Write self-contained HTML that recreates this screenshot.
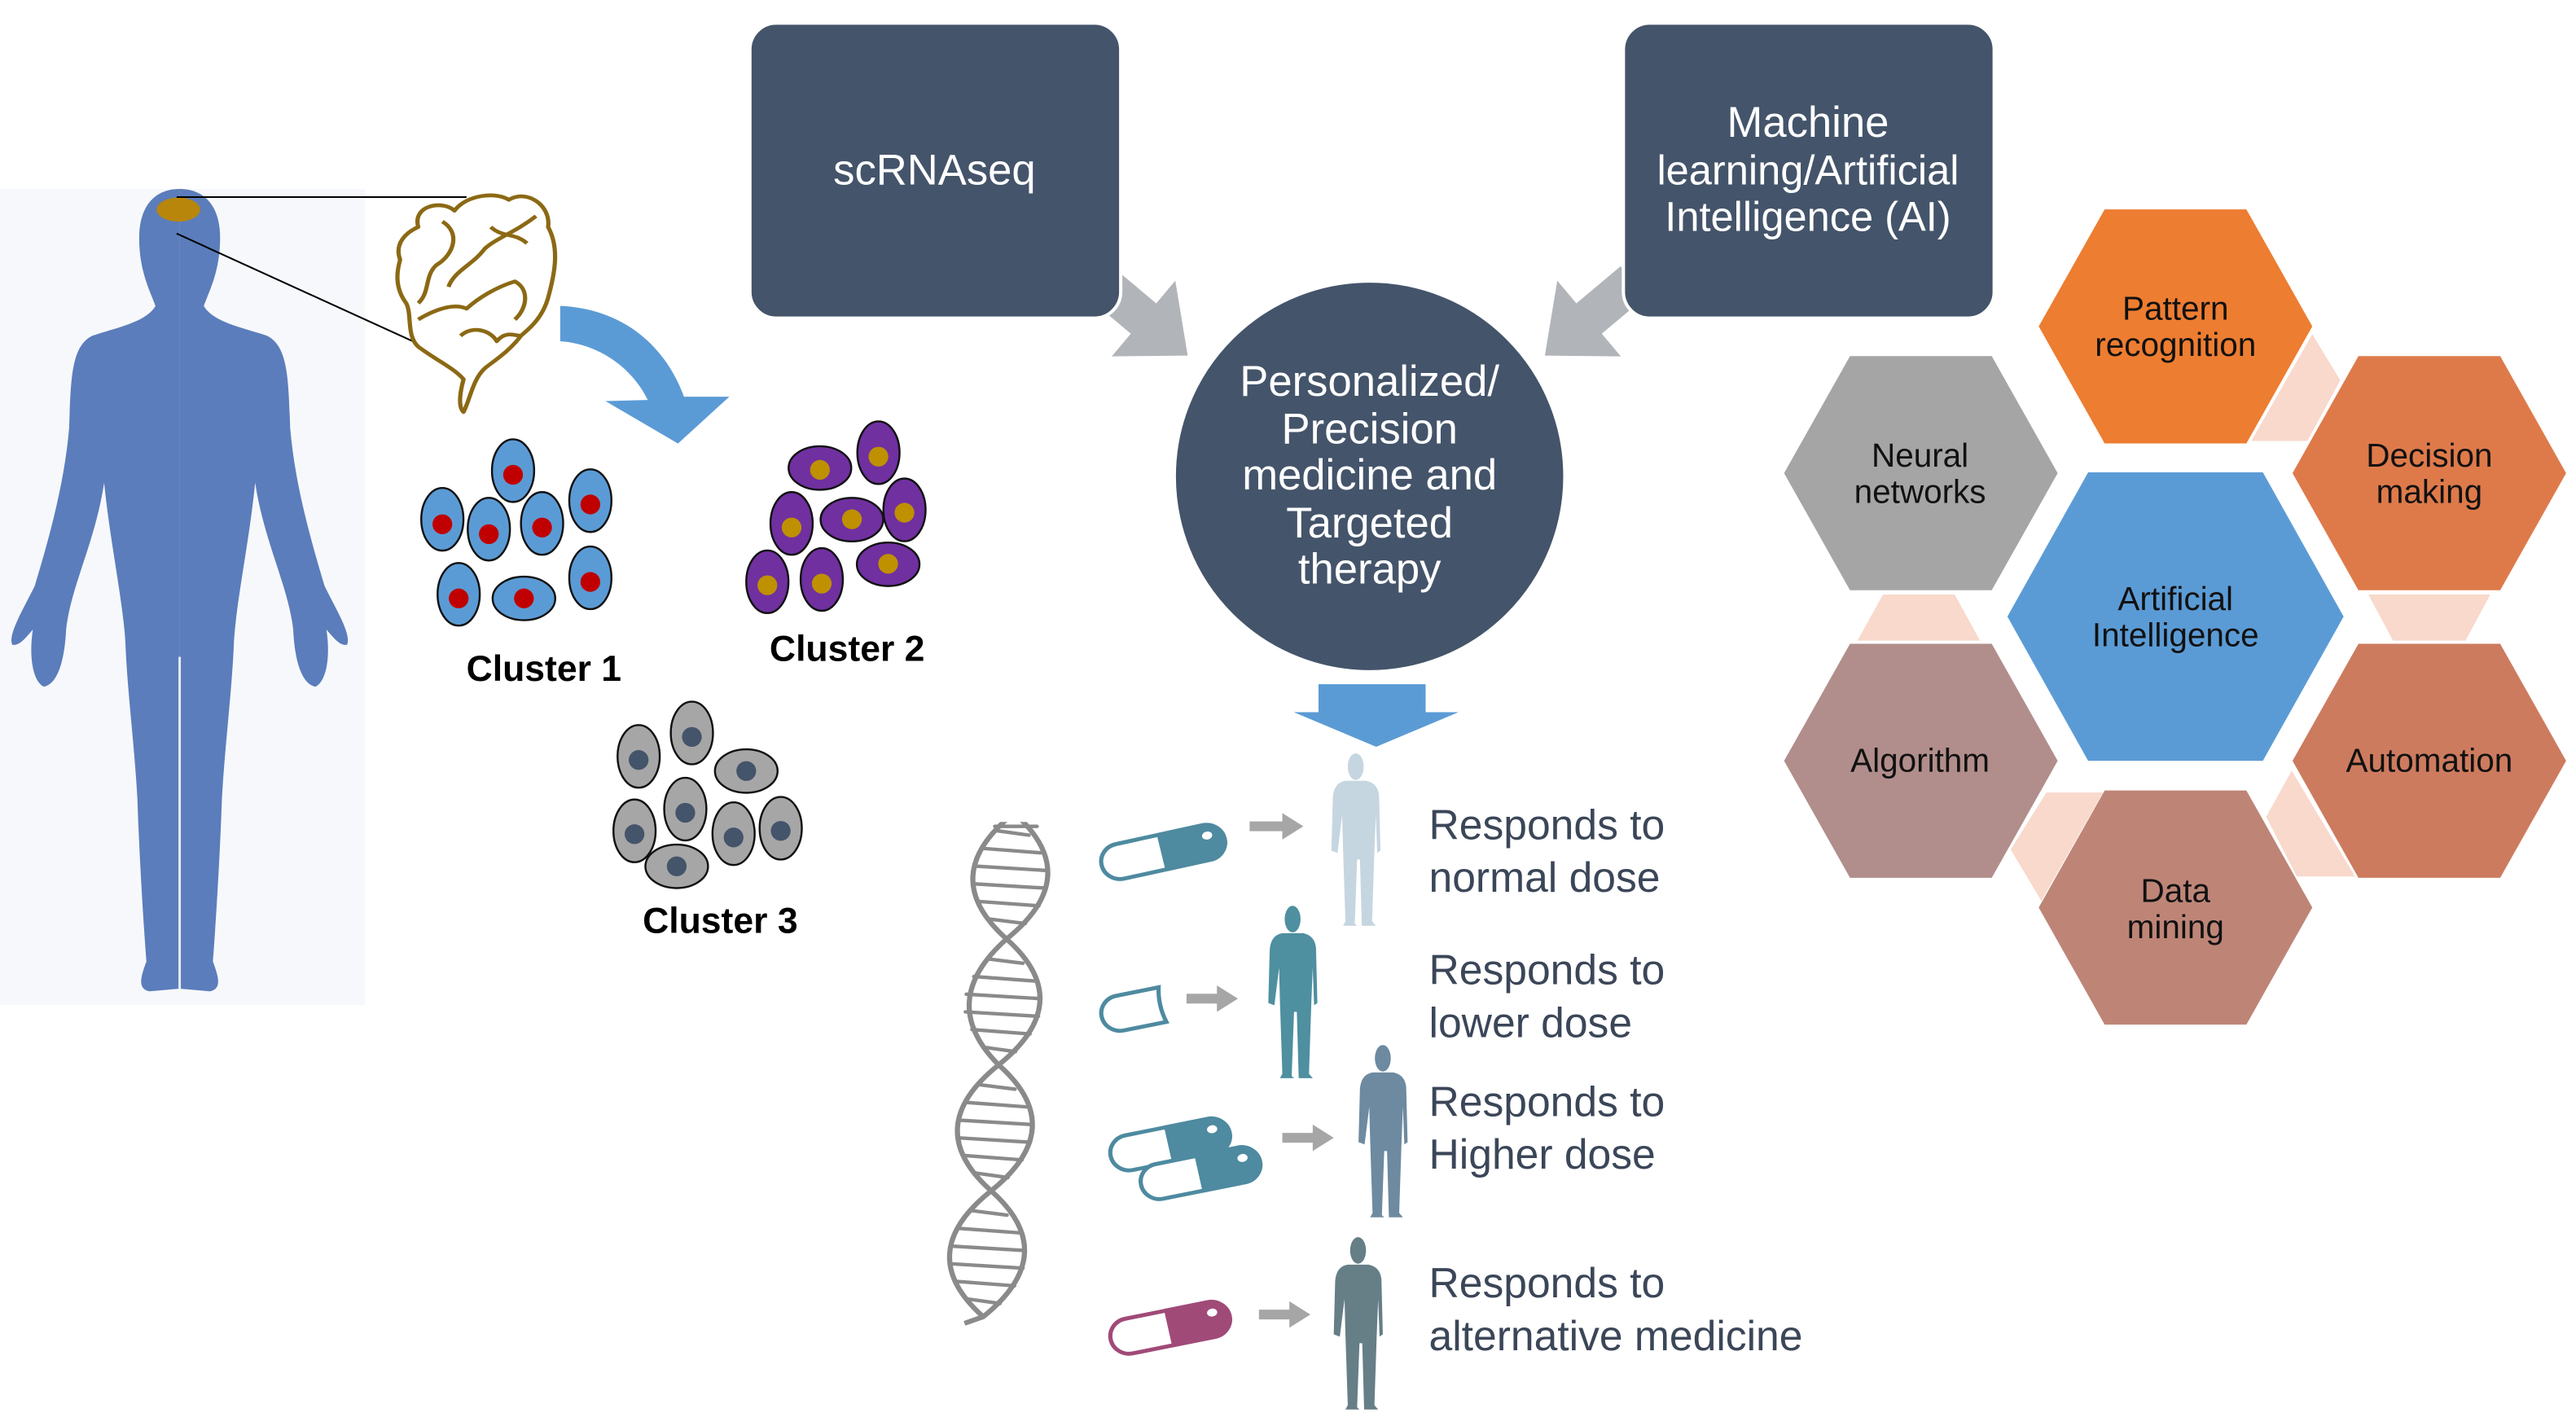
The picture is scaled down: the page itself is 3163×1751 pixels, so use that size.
<!DOCTYPE html>
<html><head><meta charset="utf-8"><style>
html,body{margin:0;padding:0;background:#fff;}
svg{display:block;}
text{font-family:"Liberation Sans",Arial,sans-serif;}
</style></head><body>
<svg width="3163" height="1751" viewBox="0 0 1563 865" preserveAspectRatio="none" xmlns="http://www.w3.org/2000/svg">
<defs>
<path id="halfman" d="M305,30 C345,30 372,60 372,120 C372,180 355,215 345,245 C360,275 410,285 450,300 C485,320 485,380 488,470 C495,560 515,650 545,760 C565,805 590,850 582,868 C570,870 560,855 548,840 C555,890 548,935 530,945 C505,940 495,890 493,840 C485,760 445,680 430,570 C420,680 400,780 395,860 C392,950 380,1050 375,1150 C372,1250 365,1380 360,1450 C370,1480 375,1500 355,1505 L305,1500 L305,30 Z"/>
<g id="person">
<ellipse cx="57" cy="30" rx="17" ry="30"/>
<path d="M35,62 L80,62 C95,66 105,75 107,95 L110,220 L103,225 L100,140 L97,220 L92,380 L100,390 L70,390 L66,240 L60,240 L55,385 L60,390 L30,390 L35,380 L30,220 L28,140 L18,225 L5,220 L8,100 C10,75 20,65 35,62 Z"/>
</g>
</defs>

<g transform="translate(-2.78,104.7) scale(0.3665,0.33)">
<rect x="0" y="30" width="612" height="1500" fill="#f7f8fb"/>
<g fill="#5b7dbb">
<use href="#halfman"/>
<use href="#halfman" transform="translate(610,0) scale(-1,1)"/>
</g>
<line x1="305" y1="890" x2="305" y2="1500" stroke="#e8edf5" stroke-width="4"/>
<ellipse cx="303" cy="68" rx="36" ry="22" fill="#b8860b"/>
<line x1="300" y1="45" x2="780" y2="45" stroke="#000" stroke-width="3"/>
<line x1="300" y1="112" x2="760" y2="345" stroke="#000" stroke-width="3"/>
<g fill="none" stroke="#8b6914" stroke-width="7" stroke-linejoin="round">
<path d="M700,100 C690,60 740,50 760,70 C780,40 830,35 850,50 C880,30 920,60 915,100 C935,140 925,190 915,230 C905,270 880,290 870,300 C850,330 820,350 810,360 C790,380 785,420 775,440 C765,430 770,400 775,380 C760,360 730,345 700,320 C680,300 690,260 680,240 C660,210 665,180 670,160 C660,130 680,110 700,100 Z" fill="#fff"/>
<path d="M740,90 C770,110 760,150 730,170 C710,190 720,220 700,240"/>
<path d="M895,80 C860,110 830,120 810,140 C790,170 760,180 750,210"/>
<path d="M700,270 C730,250 760,240 780,250 C800,230 830,210 860,200 C885,215 880,250 860,270"/>
<path d="M770,300 C790,280 820,290 830,310 C845,290 860,300 870,300"/>
<path d="M820,100 C840,120 860,110 880,130"/>
</g>
<path d="M935,245 C1040,250 1110,320 1140,412 L1215,412 L1130,498 L1010,420 L1080,418 C1055,360 1000,315 935,310 Z" fill="#5b9bd5"/>
</g>

<g stroke="#111" stroke-width="1.2">
<g fill="#5b9bd5">
<ellipse cx="311.3" cy="285.5" rx="12.8" ry="19"/><ellipse cx="268.4" cy="315" rx="12.8" ry="19"/>
<ellipse cx="296.6" cy="321" rx="12.8" ry="19"/><ellipse cx="328.9" cy="317.5" rx="12.8" ry="19"/>
<ellipse cx="358.2" cy="303.7" rx="12.8" ry="19"/><ellipse cx="278.3" cy="360.5" rx="12.8" ry="19"/>
<ellipse cx="317.9" cy="363" rx="19" ry="13.2"/><ellipse cx="358.2" cy="350.5" rx="12.8" ry="19"/>
</g>
<g fill="#7030a0">
<ellipse cx="497.5" cy="283.9" rx="19" ry="13.2"/><ellipse cx="533" cy="274.6" rx="12.8" ry="19"/>
<ellipse cx="480.3" cy="317.5" rx="12.8" ry="19"/><ellipse cx="516.9" cy="315.2" rx="19" ry="13.2"/>
<ellipse cx="548.8" cy="309.3" rx="12.8" ry="19"/><ellipse cx="465.6" cy="352.9" rx="12.8" ry="19"/>
<ellipse cx="498.6" cy="351.5" rx="12.8" ry="19"/><ellipse cx="538.9" cy="342.3" rx="19" ry="13.2"/>
</g>
<g fill="#a6a6a6">
<ellipse cx="387.5" cy="458.8" rx="12.8" ry="19"/><ellipse cx="419.8" cy="444.6" rx="12.8" ry="19"/>
<ellipse cx="452.8" cy="467.7" rx="19" ry="13.2"/><ellipse cx="415.8" cy="490.8" rx="12.8" ry="19"/>
<ellipse cx="385" cy="504" rx="12.8" ry="19"/><ellipse cx="445.1" cy="505.7" rx="12.8" ry="19"/>
<ellipse cx="473.7" cy="502.4" rx="12.8" ry="19"/><ellipse cx="410.6" cy="525.5" rx="19" ry="13.2"/>
</g>
</g>
<g fill="#c00000">
<circle cx="311.3" cy="288" r="6"/><circle cx="268.4" cy="318" r="6"/><circle cx="296.6" cy="324" r="6"/><circle cx="328.9" cy="320" r="6"/>
<circle cx="358.2" cy="306" r="6"/><circle cx="278.3" cy="363" r="6"/><circle cx="317.9" cy="363" r="6"/><circle cx="358.2" cy="353" r="6"/>
</g>
<g fill="#bf9000">
<circle cx="497.5" cy="285" r="6"/><circle cx="533" cy="277" r="6"/><circle cx="480.3" cy="320" r="6"/><circle cx="516.9" cy="315" r="6"/>
<circle cx="548.8" cy="311" r="6"/><circle cx="465.6" cy="355" r="6"/><circle cx="498.6" cy="354" r="6"/><circle cx="538.9" cy="342" r="6"/>
</g>
<g fill="#44546a">
<circle cx="387.5" cy="461" r="6"/><circle cx="419.8" cy="447" r="6"/><circle cx="452.8" cy="467.7" r="6"/><circle cx="415.8" cy="493" r="6"/>
<circle cx="385" cy="506" r="6"/><circle cx="445.1" cy="508" r="6"/><circle cx="473.7" cy="504" r="6"/><circle cx="410.6" cy="525.5" r="6"/>
</g>
<g font-size="22" font-weight="bold" fill="#000" text-anchor="middle">
<text x="330" y="413">Cluster 1</text>
<text x="514" y="401">Cluster 2</text>
<text x="437" y="566">Cluster 3</text>
</g>

<g fill="#b1b5ba">
<polygon points="-30,-12 5,-12 5,-30 40,0 5,30 5,12 -30,12" transform="translate(690,190) rotate(40)"/>
<polygon points="-30,-12 5,-12 5,-30 40,0 5,30 5,12 -30,12" transform="translate(968,190) rotate(140)"/>
</g>

<rect x="455" y="14" width="225" height="179" rx="16" fill="#44546a" stroke="#fff" stroke-width="2"/>
<rect x="985" y="14" width="225" height="179" rx="16" fill="#44546a" stroke="#fff" stroke-width="2"/>
<circle cx="831" cy="289" r="119" fill="#44546a" stroke="#fff" stroke-width="3"/>
<g fill="#fff" font-size="26" text-anchor="middle">
<text x="567" y="112">scRNAseq</text>
<text x="1097" y="83">Machine</text>
<text x="1097" y="112" font-size="25">learning/Artificial</text>
<text x="1097" y="140" font-size="25">Intelligence (AI)</text>
<text x="831" y="240">Personalized/</text>
<text x="831" y="269">Precision</text>
<text x="831" y="297">medicine and</text>
<text x="831" y="326">Targeted</text>
<text x="831" y="354">therapy</text>
</g>
<polygon points="800,415 865,415 865,432 885,432 835,453 785,432 800,432" fill="#5b9bd5"/>

<g transform="translate(568.2,446.3) scale(0.2836,0.268)">
<clipPath id="dc"><rect x="0" y="195" width="400" height="1140"/></clipPath>
<g clip-path="url(#dc)" fill="none" stroke="#8a8a8a" stroke-width="11">
<path d="M166,175 Q-2,317 150,460 Q301,602 133,745 Q-35,887 117,1030 Q268,1172 100,1315 L60,1330"/>
<path d="M166,175 Q318,317 150,460 Q-1,602 133,745 Q285,887 117,1030 Q-52,1172 100,1315"/>
</g>
<g stroke="#8a8a8a" stroke-width="8" stroke-linecap="round">
<line x1="125" y1="205" x2="215" y2="205"/>
<line x1="129.6" y1="215" x2="197.8" y2="225"/><line x1="99" y1="255" x2="223" y2="265"/>
<line x1="81" y1="295" x2="237" y2="305"/><line x1="78" y1="335" x2="235" y2="345"/>
<line x1="90" y1="375" x2="219" y2="385"/><line x1="114" y1="415" x2="190" y2="425"/>
<line x1="109" y1="505" x2="185" y2="515"/><line x1="80" y1="545" x2="209" y2="555"/>
<line x1="64" y1="585" x2="221" y2="595"/><line x1="62" y1="625" x2="218" y2="635"/>
<line x1="76" y1="665" x2="200" y2="675"/><line x1="101" y1="705" x2="169" y2="715"/>
<line x1="93" y1="790" x2="168" y2="800"/><line x1="64" y1="830" x2="192" y2="840"/>
<line x1="48" y1="870" x2="204" y2="880"/><line x1="45" y1="910" x2="201" y2="920"/>
<line x1="59" y1="950" x2="183" y2="960"/><line x1="85" y1="990" x2="153" y2="1000"/>
<line x1="77" y1="1075" x2="151" y2="1085"/><line x1="48" y1="1115" x2="176" y2="1125"/>
<line x1="31" y1="1155" x2="187" y2="1165"/><line x1="29" y1="1195" x2="185" y2="1205"/>
<line x1="43" y1="1235" x2="167" y2="1245"/><line x1="68" y1="1275" x2="136" y2="1285"/>
</g>
<g stroke-width="9">
<g transform="translate(485,263) rotate(-13)" stroke="#4e8aa0">
<rect x="-135" y="-40" width="270" height="80" rx="40" fill="#fff"/>
<path d="M0,-40 L95,-40 A40,40 0 0 1 95,40 L0,40 Z" fill="#4e8aa0"/>
<ellipse cx="100" cy="-15" rx="11" ry="9" fill="#fff" stroke="none"/>
</g>
<g transform="translate(420,622) rotate(-12)" stroke="#4e8aa0">
<path d="M65,-40 L-28,-40 A40,40 0 0 0 -28,40 L65,40 Q55,0 65,-40 Z" fill="#fff"/>
</g>
<g transform="translate(500,925) rotate(-12)" stroke="#4e8aa0">
<rect x="-130" y="-40" width="260" height="80" rx="40" fill="#fff"/>
<path d="M0,-40 L90,-40 A40,40 0 0 1 90,40 L0,40 Z" fill="#4e8aa0"/>
<ellipse cx="95" cy="-15" rx="11" ry="9" fill="#fff" stroke="none"/>
</g>
<g transform="translate(565,990) rotate(-12)" stroke="#4e8aa0">
<rect x="-130" y="-40" width="260" height="80" rx="40" fill="#fff"/>
<path d="M0,-40 L90,-40 A40,40 0 0 1 90,40 L0,40 Z" fill="#4e8aa0"/>
<ellipse cx="95" cy="-15" rx="11" ry="9" fill="#fff" stroke="none"/>
</g>
<g transform="translate(500,1340) rotate(-12)" stroke="#a04a78">
<rect x="-130" y="-40" width="260" height="80" rx="40" fill="#fff"/>
<path d="M0,-40 L90,-40 A40,40 0 0 1 90,40 L0,40 Z" fill="#a04a78"/>
<ellipse cx="95" cy="-15" rx="11" ry="9" fill="#fff" stroke="none"/>
</g>
</g>
<g fill="#a6a6a6">
<polygon points="670,194 740,194 740,175 785,205 740,235 740,216 670,216"/>
<polygon points="535,584 600,584 600,565 645,595 600,625 600,606 535,606"/>
<polygon points="740,899 805,899 805,880 850,910 805,940 805,921 740,921"/>
<polygon points="690,1299 755,1299 755,1280 800,1310 755,1340 755,1321 690,1321"/>
</g>
<use href="#person" transform="translate(840,40)" fill="#c5d6e0"/>
<use href="#person" transform="translate(705,385)" fill="#4e8fa0"/>
<use href="#person" transform="translate(898,700)" fill="#6d8aa0"/>
<use href="#person" transform="translate(845,1135)" fill="#667e86"/>
</g>
<g font-size="25.5" fill="#3b4658">
<text x="867" y="509">Responds to</text><text x="867" y="541">normal dose</text>
<text x="867" y="597">Responds to</text><text x="867" y="629">lower dose</text>
<text x="867" y="677">Responds to</text><text x="867" y="709">Higher dose</text>
<text x="867" y="787">Responds to</text><text x="867" y="819">alternative medicine</text>
</g>

<g fill="#f8d9cc">
<polygon points="1403,202.7 1420,230.7 1400,267.5 1366,267.5"/>
<polygon points="1437,360.6 1511,360.6 1496,388.6 1452,388.6"/>
<polygon points="1390.5,467.5 1429,531.7 1393.6,531.7 1375,495.5"/>
<polygon points="1241.7,480.7 1276,480.7 1238.6,546.5 1220,515.3"/>
<polygon points="1142.5,360.6 1186,360.6 1201.4,388.6 1127,388.6"/>
</g>
<polygon points="1237,198 1277,127 1363,127 1403,198 1363,269 1277,269" fill="#ed7d31"/>
<polygon points="1082.5,287 1122.5,216 1208.5,216 1248.5,287 1208.5,358 1122.5,358" fill="#a5a5a5"/>
<polygon points="1391,287 1431,216 1517,216 1557,287 1517,358 1431,358" fill="#de7a4a"/>
<polygon points="1391,461.5 1431,390.5 1517,390.5 1557,461.5 1517,532.5 1431,532.5" fill="#cd7b5f"/>
<polygon points="1082.5,461.5 1122.5,390.5 1208.5,390.5 1248.5,461.5 1208.5,532.5 1122.5,532.5" fill="#b18e8b"/>
<polygon points="1237,550.5 1277,479.5 1363,479.5 1403,550.5 1363,621.5 1277,621.5" fill="#be8577"/>
<polygon points="1218,374 1267,286.5 1373,286.5 1422,374 1373,461.5 1267,461.5" fill="#5b9bd5"/>
<g font-size="20" fill="#111" text-anchor="middle">
<text x="1320" y="194">Pattern</text><text x="1320" y="216">recognition</text>
<text x="1165" y="283">Neural</text><text x="1165" y="305">networks</text>
<text x="1474" y="283">Decision</text><text x="1474" y="305">making</text>
<text x="1320" y="370">Artificial</text><text x="1320" y="392">Intelligence</text>
<text x="1165" y="468">Algorithm</text>
<text x="1474" y="468">Automation</text>
<text x="1320" y="547">Data</text><text x="1320" y="569">mining</text>
</g>
</svg>
</body></html>
